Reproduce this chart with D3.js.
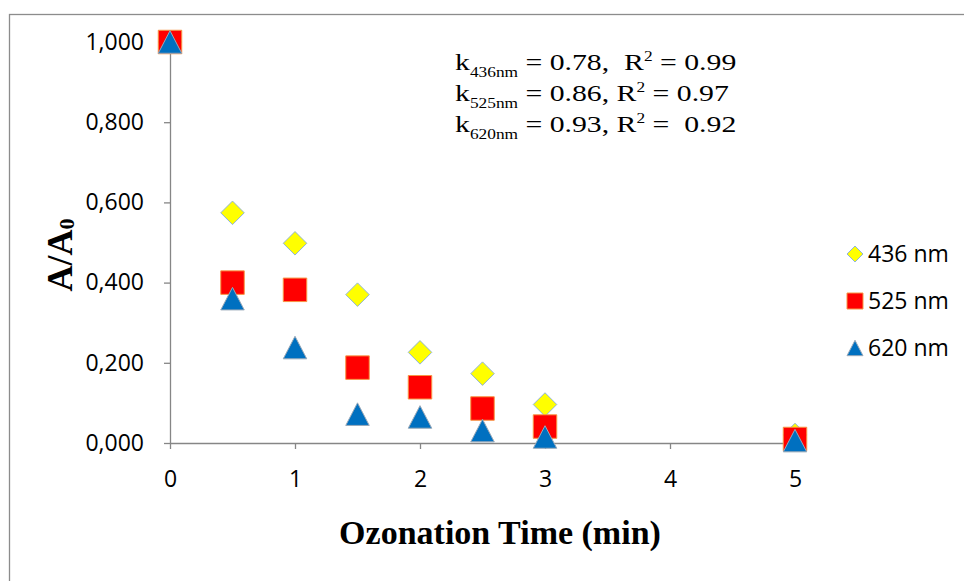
<!DOCTYPE html>
<html>
<head>
<meta charset="utf-8">
<script src="https://cdn.jsdelivr.net/npm/d3@7"></script>
<style>
  body { margin: 0; background: #fff; }
  svg { display: block; }
  .tick text { font-family: "Open Sans", sans-serif; font-size: 23px; fill: #000; }
  .axis path, .axis line { stroke: #868686; stroke-width: 1.3; }
</style>
</head>
<body>
<svg id="chart" width="964" height="581"></svg>
<script>
// ozonation time (min) and A/A0 for each wavelength
const times = [0, 0.5, 1, 1.5, 2, 2.5, 3, 5];
const a436 = [1.0, 0.574, 0.498, 0.370, 0.226, 0.173, 0.096, 0.020];
const a525 = [1.0, 0.400, 0.382, 0.188, 0.139, 0.086, 0.041, 0.010];
const a620 = [1.0, 0.360, 0.238, 0.072, 0.065, 0.031, 0.015, 0.006];

const seriesNames = ["436 nm", "525 nm", "620 nm"];
const xTicks = [0, 1, 2, 3, 4, 5];
const yTicks = [0, 0.2, 0.4, 0.6, 0.8, 1.0];

// fit results shown in the text box
const fitWl = ["436nm", "525nm", "620nm"];
const fitK = ["0.78,  ", "0.86, ", "0.93, "];
const fitR2 = ["0.99", "0.97", " 0.92"];

const svg = d3.select("#chart");

// outer chart border (right and bottom run off the picture)
svg.append("rect")
    .attr("x", 9.5).attr("y", 14.5)
    .attr("width", 1000).attr("height", 600)
    .attr("fill", "none")
    .attr("stroke", "#8c8c8c")
    .attr("stroke-width", 1.3);

const x = d3.scaleLinear().domain([0, 5]).range([170, 795]);
const y = d3.scaleLinear().domain([0, 1]).range([443, 42]);

// axes
svg.append("g")
    .attr("class", "axis")
    .attr("transform", `translate(0,${y(0)})`)
    .call(d3.axisBottom(x).tickValues(xTicks).tickSize(6).tickSizeOuter(0).tickPadding(22)
        .tickFormat(d3.format("d")));

svg.append("g")
    .attr("class", "axis")
    .attr("transform", `translate(${x(0)},0)`)
    .call(d3.axisLeft(y).tickValues(yTicks).tickSize(6).tickSizeOuter(0).tickPadding(20)
        .tickFormat(d => d3.format(".3f")(d).replace(".", ",")));

// marker shapes
const diamond = s => `M0,${-s / 2}L${s / 2},0L0,${s / 2}L${-s / 2},0Z`;
const square = s => `M${-s / 2},${-s / 2}h${s}v${s}h${-s}Z`;
const triangle = s => `M0,${-s * 0.48}L${s / 2},${s * 0.48}L${-s / 2},${s * 0.48}Z`;

const series = [
    { name: seriesNames[0], values: a436, shape: diamond, fill: "#ffff00", stroke: "#8fb4d8" },
    { name: seriesNames[1], values: a525, shape: square, fill: "#ff0000", stroke: "#f79646" },
    { name: seriesNames[2], values: a620, shape: triangle, fill: "#0070c0", stroke: "#9aa9b8" }
];

// draw points, triangles last so they sit on top
series.forEach(s => {
    svg.append("g").selectAll("path")
        .data(times.map((t, i) => [t, s.values[i]]))
        .enter().append("path")
        .attr("d", s.shape(23.5))
        .attr("transform", d => `translate(${x(d[0])},${y(d[1])})`)
        .attr("fill", s.fill)
        .attr("stroke", s.stroke)
        .attr("stroke-width", 1);
});

// legend
const legend = svg.append("g");
series.forEach((s, i) => {
    const ly = 254 + i * 47;
    legend.append("path")
        .attr("d", s.shape(16))
        .attr("transform", `translate(855,${ly})`)
        .attr("fill", s.fill)
        .attr("stroke", s.stroke)
        .attr("stroke-width", 1);
    legend.append("text")
        .attr("x", 868).attr("y", ly + 8)
        .attr("font-family", "Open Sans, sans-serif")
        .attr("font-size", 23)
        .text(s.name);
});

// axis titles
svg.append("text")
    .attr("x", 500).attr("y", 544)
    .attr("text-anchor", "middle")
    .attr("font-family", "Liberation Serif, Times New Roman, serif")
    .attr("font-weight", "bold")
    .attr("font-size", 34)
    .text("Ozonation Time (min)");

const yTitle = svg.append("text")
    .attr("transform", "translate(72,255) rotate(-90)")
    .attr("text-anchor", "middle")
    .attr("font-family", "Liberation Serif, Times New Roman, serif")
    .attr("font-weight", "bold")
    .attr("font-size", 36);
yTitle.append("tspan").text("A/A");
yTitle.append("tspan").attr("font-size", 22).attr("dy", 2).text("0");

// rate constants text box
fitWl.forEach((wl, i) => {
    const t = svg.append("text")
        .attr("transform", `translate(455,${70 + i * 31}) scale(1.24,1)`)
        .attr("font-family", "Liberation Serif, Times New Roman, serif")
        .attr("font-size", 24)
        .style("white-space", "pre");
    t.append("tspan").text("k");
    t.append("tspan").attr("font-size", 14).attr("dy", 7).text(wl);
    t.append("tspan").attr("dy", -7).text(" = " + fitK[i] + "R");
    t.append("tspan").attr("font-size", 14).attr("dy", -9).text("2");
    t.append("tspan").attr("dy", 9).text(" = " + fitR2[i]);
});
</script>
</body>
</html>
